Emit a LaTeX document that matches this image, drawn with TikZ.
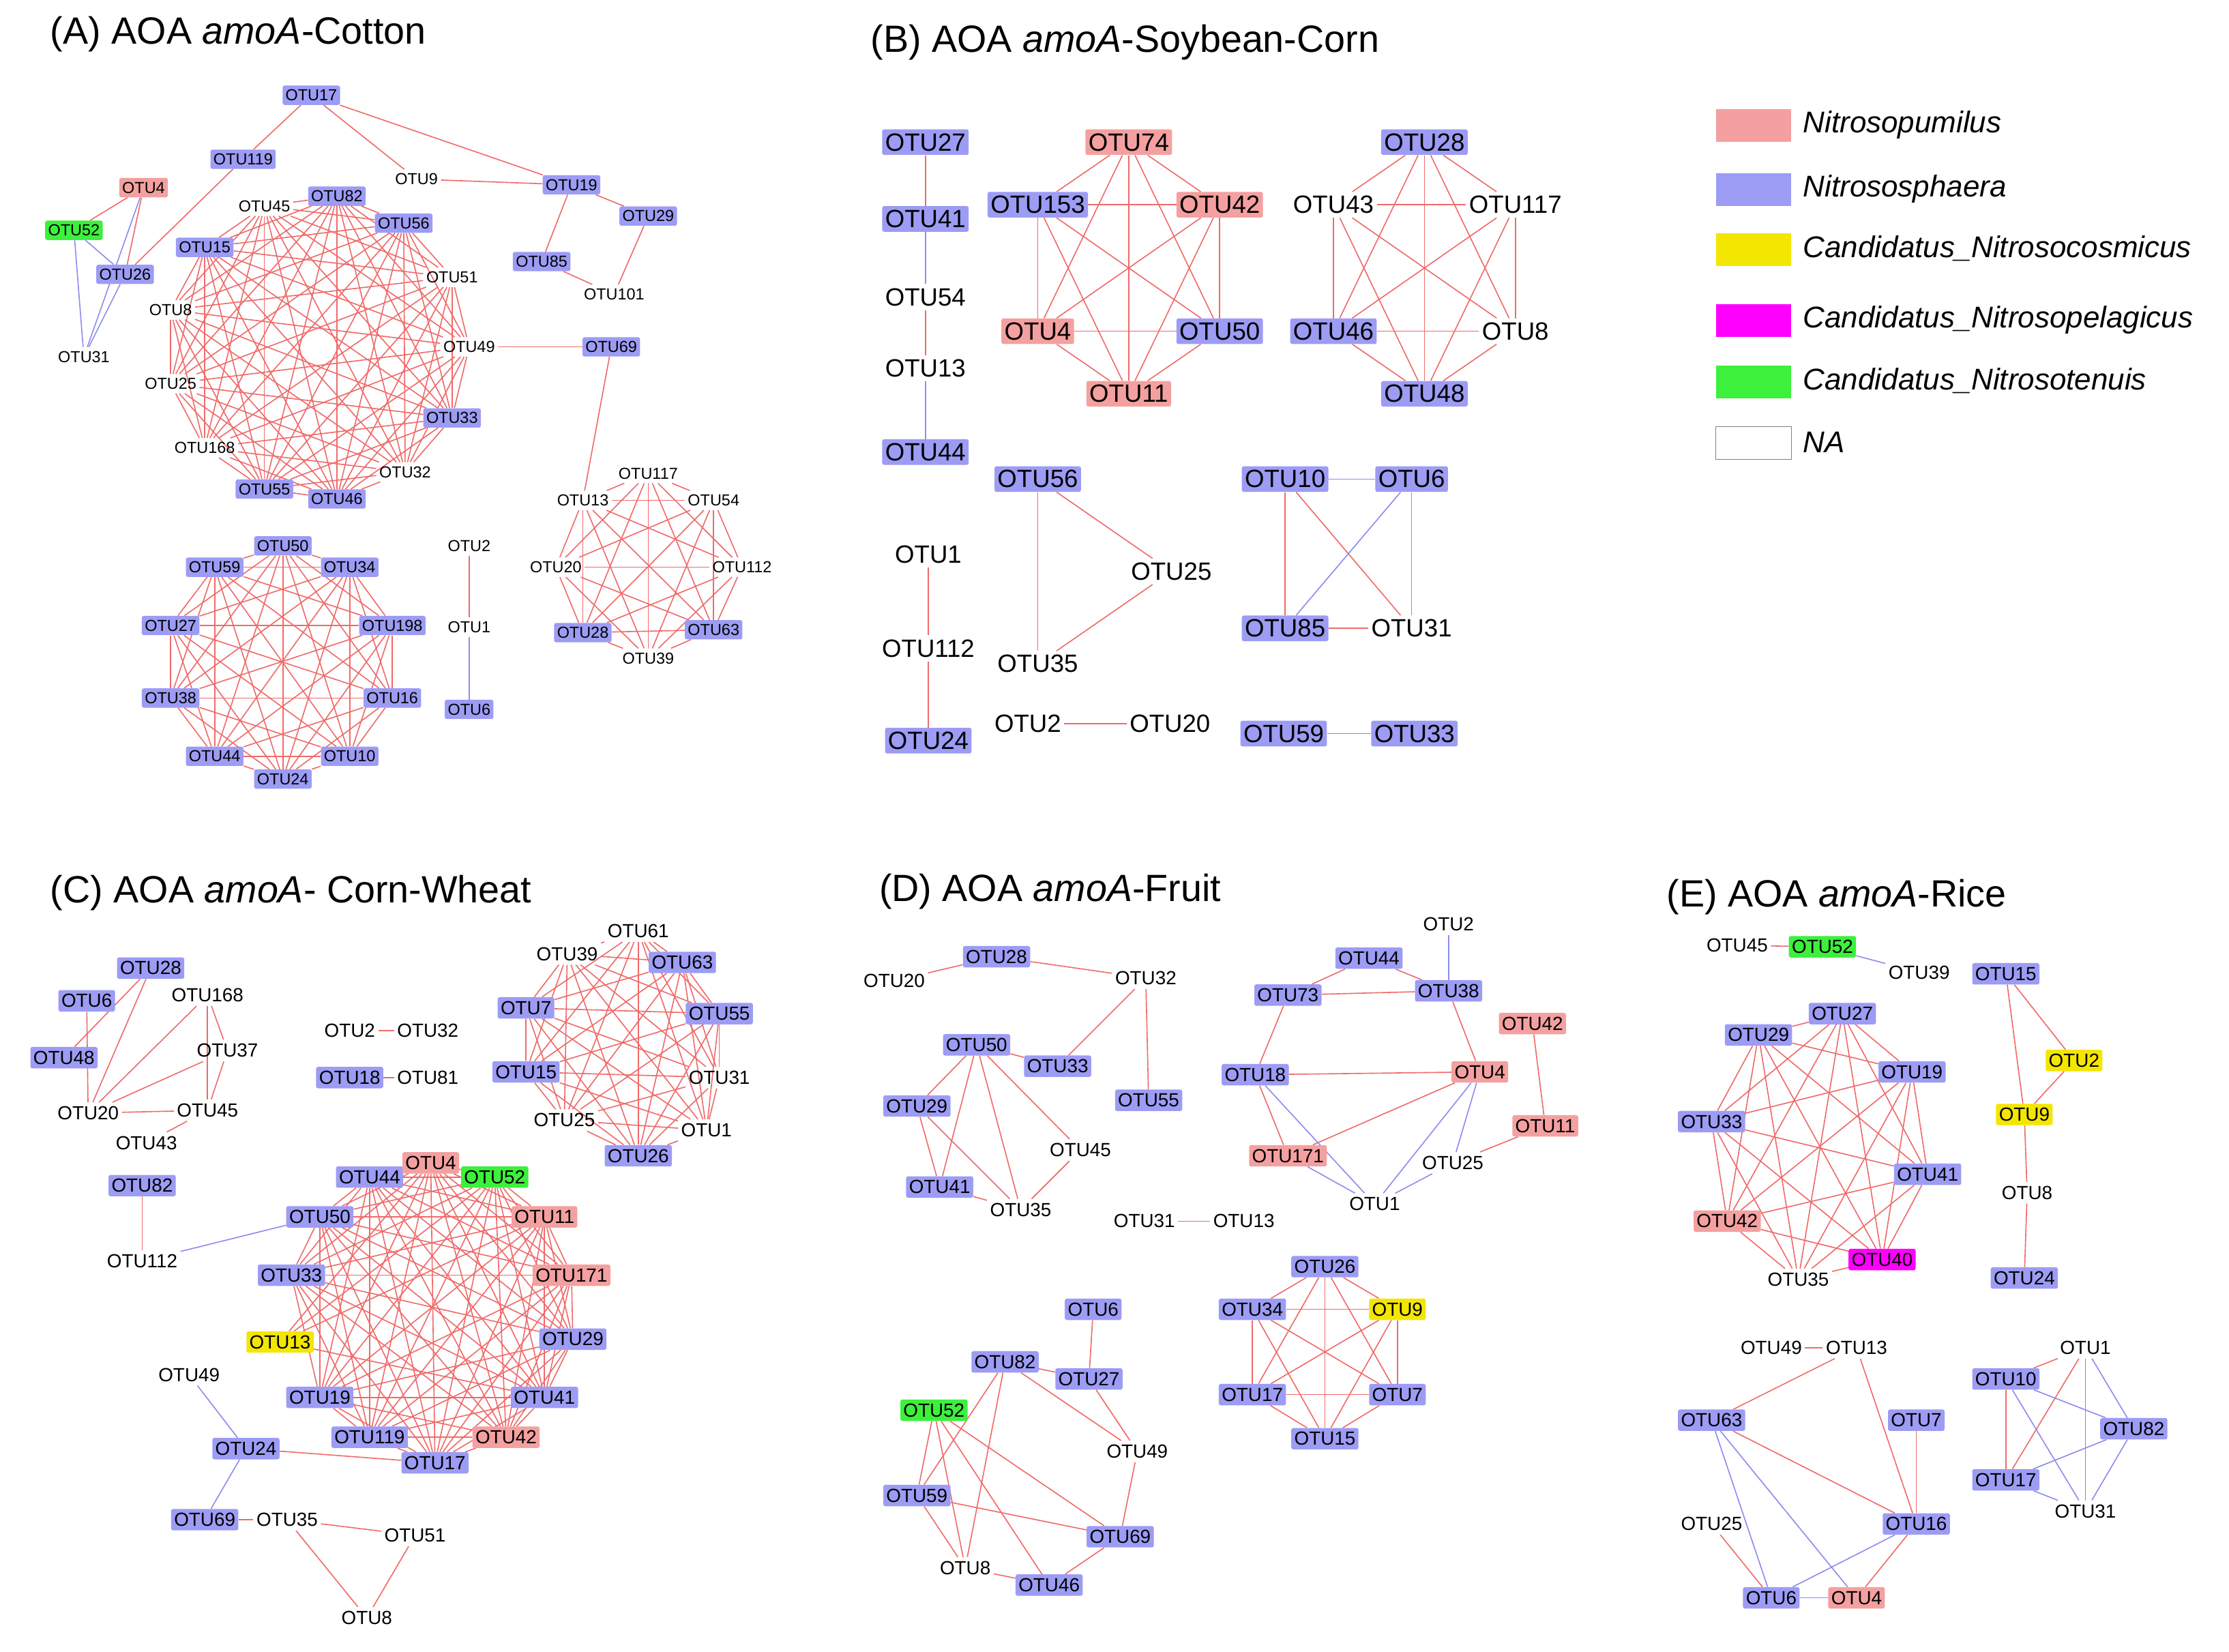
\documentclass[tikz,border=0pt]{standalone}
\usepackage{fontspec}
\setmainfont{Liberation Sans}
\usetikzlibrary{backgrounds}
\definecolor{pk}{HTML}{F4A0A0}
\definecolor{bl}{HTML}{9C9CF5}
\definecolor{yl}{HTML}{F3E600}
\definecolor{mg}{HTML}{FF00FF}
\definecolor{gr}{HTML}{3CF03C}
\definecolor{er}{HTML}{F06A6A}
\definecolor{eb}{HTML}{8C8CF0}
\tikzset{
 n/.style={inner xsep=3pt,inner ysep=4pt,rounded corners=2pt},
 P/.style={n,fill=pk},B/.style={n,fill=bl},Y/.style={n,fill=yl},
 M/.style={n,fill=mg},G/.style={n,fill=gr},X/.style={n},
 r/.style={draw=er,line width=1.1pt},b/.style={draw=eb,line width=1.1pt},
 fA/.style={every node/.append style={font=\fontsize{16}{16}\selectfont}},
 fB/.style={every node/.append style={font=\fontsize{25}{25}\selectfont}},
 fC/.style={every node/.append style={font=\fontsize{19}{19}\selectfont}},
 title/.style={font=\fontsize{38}{38}\selectfont,anchor=west},
 leg/.style={font=\fontsize{30}{30}\selectfont\itshape,anchor=west}
}
\newcommand\Nd[5]{\node[#4] (#1) at (#2,#3) {#5};}
\newcommand\clique[2][r]{\foreach \a [count=\i] in {#2}{\foreach \b [count=\j] in {#2}{\ifnum\j>\i\relax \draw[#1] (\a)--(\b);\fi}}}
\newcommand\E[3][r]{\draw[#1] (#2)--(#3);}
\begin{document}
\begin{tikzpicture}[x=0.05cm,y=-0.05cm]
\useasboundingbox (0,0) rectangle (1568,1162);
% titles
\node[title] (tA) at (33,24) {(A) AOA \textit{amoA}-Cotton};
\node[title] (tB) at (610,30) {(B) AOA \textit{amoA}-Soybean-Corn};
\node[title] (tC) at (33,628) {(C) AOA \textit{amoA}- Corn-Wheat};
\node[title] (tD) at (616,627) {(D) AOA \textit{amoA}-Fruit};
\node[title] (tE) at (1170,631) {(E) AOA \textit{amoA}-Rice};
% legend
\foreach \c/\y/\t [count=\k] in {pk/88/Nitrosopumilus,bl/133/Nitrososphaera,yl/175/Candidatus\_Nitrosocosmicus,mg/225/Candidatus\_Nitrosopelagicus,gr/268/Candidatus\_Nitrosotenuis}{
 \fill[\c] (1207,\y-11) rectangle (1260,\y+12);
 \node[leg] (lg\k) at (1266,\y) {\t};}
\draw[gray] (1207,300) rectangle (1260,323);
\node[leg] (lg6) at (1266,311) {NA};
% ================= A
\begin{scope}[fA]
\Nd{a17}{219}{67}{B}{OTU17}\Nd{a119}{171}{112}{B}{OTU119}\Nd{a9}{293}{126}{X}{OTU9}
\Nd{a19}{402}{130}{B}{OTU19}\Nd{a29}{456}{152}{B}{OTU29}\Nd{a85}{381}{184}{B}{OTU85}
\Nd{a101}{432}{207}{X}{OTU101}\Nd{a4}{101}{132}{P}{OTU4}\Nd{a52}{52}{162}{G}{OTU52}
\Nd{a26}{88}{193}{B}{OTU26}\Nd{a31}{59}{251}{X}{OTU31}\Nd{a45}{186}{145}{X}{OTU45}
\Nd{a82}{237}{138}{B}{OTU82}\Nd{a56}{284}{157}{B}{OTU56}\Nd{a15}{144}{174}{B}{OTU15}
\Nd{a51}{318}{195}{X}{OTU51}\Nd{a8}{120}{218}{X}{OTU8}\Nd{a49}{330}{244}{X}{OTU49}
\Nd{a69}{430}{244}{B}{OTU69}\Nd{a25}{120}{270}{X}{OTU25}\Nd{a33}{318}{294}{B}{OTU33}
\Nd{a168}{144}{315}{X}{OTU168}\Nd{a32}{285}{332}{X}{OTU32}\Nd{a55}{186}{344}{B}{OTU55}
\Nd{a46}{237}{351}{B}{OTU46}
\Nd{a50}{199}{384}{B}{OTU50}\Nd{a34}{246}{399}{B}{OTU34}\Nd{a198}{276}{440}{B}{OTU198}
\Nd{a16}{276}{491}{B}{OTU16}\Nd{a10}{246}{532}{B}{OTU10}\Nd{a24}{199}{548}{B}{OTU24}
\Nd{a44}{151}{532}{B}{OTU44}\Nd{a38}{120}{491}{B}{OTU38}\Nd{a27}{120}{440}{B}{OTU27}
\Nd{a59}{151}{399}{B}{OTU59}
\Nd{a2}{330}{384}{X}{OTU2}\Nd{a1}{330}{441}{X}{OTU1}\Nd{a6}{330}{499}{B}{OTU6}
\Nd{a117}{456}{333}{X}{OTU117}\Nd{a13}{410}{352}{X}{OTU13}\Nd{a54}{502}{352}{X}{OTU54}
\Nd{a20}{391}{399}{X}{OTU20}\Nd{a112}{522}{399}{X}{OTU112}\Nd{a28}{410}{445}{B}{OTU28}
\Nd{a63}{502}{443}{B}{OTU63}\Nd{a39}{456}{463}{X}{OTU39}
\end{scope}
% ================= B
\begin{scope}[fB]
\Nd{b27}{651}{100}{B}{OTU27}\Nd{b41}{651}{154}{B}{OTU41}\Nd{b54}{651}{209}{X}{OTU54}
\Nd{b13}{651}{259}{X}{OTU13}\Nd{b44}{651}{318}{B}{OTU44}
\Nd{b74}{794}{100}{P}{OTU74}\Nd{b153}{730}{144}{B}{OTU153}\Nd{b42}{858}{144}{P}{OTU42}
\Nd{b4}{730}{233}{P}{OTU4}\Nd{b50}{858}{233}{B}{OTU50}\Nd{b11}{794}{277}{P}{OTU11}
\Nd{b28}{1002}{100}{B}{OTU28}\Nd{b43}{938}{144}{X}{OTU43}\Nd{b117}{1066}{144}{X}{OTU117}
\Nd{b46}{938}{233}{B}{OTU46}\Nd{b8}{1066}{233}{X}{OTU8}\Nd{b48}{1002}{277}{B}{OTU48}
\Nd{b56}{730}{337}{B}{OTU56}\Nd{b25}{824}{402}{X}{OTU25}\Nd{b35}{730}{467}{X}{OTU35}
\Nd{b1}{653}{390}{X}{OTU1}\Nd{b112}{653}{456}{X}{OTU112}\Nd{b24}{653}{521}{B}{OTU24}
\Nd{b2}{723}{509}{X}{OTU2}\Nd{b20}{823}{509}{X}{OTU20}
\Nd{b10}{904}{337}{B}{OTU10}\Nd{b6}{993}{337}{B}{OTU6}\Nd{b85}{904}{442}{B}{OTU85}
\Nd{b31}{993}{442}{X}{OTU31}\Nd{b59}{903}{516}{B}{OTU59}\Nd{b33}{995}{516}{B}{OTU33}
\end{scope}
% ================= C
\begin{scope}[fC]
\Nd{c28}{106}{681}{B}{OTU28}\Nd{c6}{61}{704}{B}{OTU6}\Nd{c168}{146}{700}{X}{OTU168}
\Nd{c48}{45}{744}{B}{OTU48}\Nd{c37}{160}{739}{X}{OTU37}\Nd{c20}{62}{783}{X}{OTU20}
\Nd{c45}{146}{781}{X}{OTU45}\Nd{c43}{103}{804}{X}{OTU43}\Nd{c82}{100}{834}{B}{OTU82}
\Nd{c112}{100}{887}{X}{OTU112}
\Nd{c2}{246}{725}{X}{OTU2}\Nd{c32}{301}{725}{X}{OTU32}\Nd{c18}{246}{758}{B}{OTU18}\Nd{c81}{301}{758}{X}{OTU81}
\Nd{c61}{449}{655}{X}{OTU61}\Nd{c39}{399}{671}{X}{OTU39}\Nd{c63}{480}{677}{B}{OTU63}
\Nd{c7}{370}{709}{B}{OTU7}\Nd{c55}{506}{713}{B}{OTU55}\Nd{c15}{370}{754}{B}{OTU15}
\Nd{c31}{506}{758}{X}{OTU31}\Nd{c25}{397}{788}{X}{OTU25}\Nd{c1}{497}{795}{X}{OTU1}
\Nd{c26}{449}{813}{B}{OTU26}
\Nd{c44}{260}{828}{B}{OTU44}\Nd{c4}{303}{818}{P}{OTU4}\Nd{c52}{348}{828}{G}{OTU52}
\Nd{c50}{225}{856}{B}{OTU50}\Nd{c11}{383}{856}{P}{OTU11}\Nd{c33}{205}{897}{B}{OTU33}
\Nd{c171}{402}{897}{P}{OTU171}\Nd{c13}{197}{944}{Y}{OTU13}\Nd{c29}{403}{942}{B}{OTU29}
\Nd{c19}{225}{983}{B}{OTU19}\Nd{c41}{383}{983}{B}{OTU41}\Nd{c119}{260}{1011}{B}{OTU119}
\Nd{c42}{356}{1011}{P}{OTU42}\Nd{c17}{306}{1029}{B}{OTU17}
\Nd{c49}{133}{967}{X}{OTU49}\Nd{c24}{173}{1019}{B}{OTU24}\Nd{c69}{144}{1069}{B}{OTU69}
\Nd{c35}{202}{1069}{X}{OTU35}\Nd{c51}{292}{1080}{X}{OTU51}\Nd{c8}{258}{1138}{X}{OTU8}
% ================= D
\Nd{d28}{701}{673}{B}{OTU28}\Nd{d20}{629}{690}{X}{OTU20}\Nd{d32}{806}{688}{X}{OTU32}
\Nd{d50}{687}{735}{B}{OTU50}\Nd{d33}{744}{750}{B}{OTU33}\Nd{d55}{808}{774}{B}{OTU55}
\Nd{d29}{645}{778}{B}{OTU29}\Nd{d45}{760}{809}{X}{OTU45}\Nd{d41}{661}{835}{B}{OTU41}
\Nd{d35}{718}{851}{X}{OTU35}\Nd{d31}{805}{859}{X}{OTU31}\Nd{d13}{875}{859}{X}{OTU13}
\Nd{d2}{1019}{650}{X}{OTU2}\Nd{d44}{963}{674}{B}{OTU44}\Nd{d73}{906}{700}{B}{OTU73}
\Nd{d38}{1019}{697}{B}{OTU38}\Nd{d42}{1078}{720}{P}{OTU42}\Nd{d18}{883}{756}{B}{OTU18}
\Nd{d4}{1041}{754}{P}{OTU4}\Nd{d11}{1087}{792}{P}{OTU11}\Nd{d171}{906}{813}{P}{OTU171}
\Nd{d25}{1022}{818}{X}{OTU25}\Nd{d1}{967}{847}{X}{OTU1}
\Nd{d6}{769}{921}{B}{OTU6}\Nd{d82}{707}{958}{B}{OTU82}\Nd{d27}{766}{970}{B}{OTU27}
\Nd{d52}{657}{992}{G}{OTU52}\Nd{d49}{800}{1021}{X}{OTU49}\Nd{d59}{645}{1052}{B}{OTU59}
\Nd{d69}{788}{1081}{B}{OTU69}\Nd{d8}{679}{1103}{X}{OTU8}\Nd{d46}{738}{1115}{B}{OTU46}
\Nd{d26}{932}{891}{B}{OTU26}\Nd{d34}{881}{921}{B}{OTU34}\Nd{d9}{983}{921}{Y}{OTU9}
\Nd{d17}{881}{981}{B}{OTU17}\Nd{d7}{983}{981}{B}{OTU7}\Nd{d15}{932}{1012}{B}{OTU15}
% ================= E
\Nd{e45}{1222}{665}{X}{OTU45}\Nd{e52}{1282}{666}{G}{OTU52}\Nd{e39}{1350}{684}{X}{OTU39}
\Nd{e27}{1296}{713}{B}{OTU27}\Nd{e29}{1237}{728}{B}{OTU29}\Nd{e19}{1345}{754}{B}{OTU19}
\Nd{e33}{1204}{789}{B}{OTU33}\Nd{e41}{1356}{826}{B}{OTU41}\Nd{e42}{1215}{859}{P}{OTU42}
\Nd{e40}{1324}{886}{M}{OTU40}\Nd{e35}{1265}{900}{X}{OTU35}
\Nd{e15}{1411}{685}{B}{OTU15}\Nd{e2}{1459}{746}{Y}{OTU2}\Nd{e9}{1424}{784}{Y}{OTU9}
\Nd{e8}{1426}{839}{X}{OTU8}\Nd{e24}{1424}{899}{B}{OTU24}
\Nd{e49}{1246}{948}{X}{OTU49}\Nd{e13}{1306}{948}{X}{OTU13}\Nd{e63}{1204}{999}{B}{OTU63}
\Nd{e7}{1348}{999}{B}{OTU7}\Nd{e25}{1204}{1072}{X}{OTU25}\Nd{e16}{1348}{1072}{B}{OTU16}
\Nd{e6}{1246}{1124}{B}{OTU6}\Nd{e4}{1306}{1124}{P}{OTU4}
\Nd{e1}{1467}{948}{X}{OTU1}\Nd{e10}{1411}{970}{B}{OTU10}\Nd{e82}{1501}{1005}{B}{OTU82}
\Nd{e17}{1411}{1041}{B}{OTU17}\Nd{e31}{1467}{1063}{X}{OTU31}
\end{scope}
\begin{pgfonlayer}{background}
\fill[white] (0,0) rectangle (1568,1162);
% A
\E{a17}{a119}\E{a17}{a9}\E{a17}{a19}\E{a9}{a19}\E{a19}{a85}\E{a19}{a29}\E{a29}{a101}\E{a85}{a101}
\E{a119}{a26}\E{a4}{a52}\E{a4}{a26}\E[b]{a52}{a26}\E[b]{a52}{a31}\E[b]{a26}{a31}\E[b]{a4}{a31}
\E{a49}{a69}\E{a69}{a13}\E{a2}{a1}\E[b]{a1}{a6}
\clique{a45,a82,a56,a51,a49,a33,a32,a46,a55,a168,a25,a8,a15}
\clique{a50,a34,a198,a16,a10,a24,a44,a38,a27,a59}
\clique{a117,a13,a54,a112,a63,a39,a28,a20}
% B
\E{b27}{b41}\E[b]{b41}{b54}\E{b54}{b13}\E[b]{b13}{b44}
\clique{b74,b153,b42,b4,b50,b11}\clique{b28,b43,b117,b46,b8,b48}
\E{b56}{b25}\E{b56}{b35}\E{b35}{b25}\E{b1}{b112}\E{b112}{b24}\E{b2}{b20}
\E[b]{b10}{b6}\E{b10}{b85}\E{b10}{b31}\E[b]{b6}{b85}\E[b]{b6}{b31}\E{b85}{b31}\E{b59}{b33}
% C
\E{c28}{c48}\E{c28}{c20}\E{c6}{c20}\E{c168}{c20}\E{c168}{c37}\E{c37}{c20}\E{c168}{c45}
\E{c37}{c45}\E{c20}{c45}\E{c45}{c43}\E{c82}{c112}\E{c2}{c32}\E{c18}{c81}
\clique{c61,c39,c63,c7,c55,c15,c31,c25,c1,c26}
\clique{c44,c4,c52,c50,c11,c33,c171,c29,c19,c41,c119,c42,c17}
\E{c13}{c4}\E{c13}{c11}\E{c13}{c41}\E{c13}{c52}
\E[b]{c50}{c112}\E[b]{c49}{c24}\E{c24}{c17}\E[b]{c24}{c69}\E{c69}{c35}\E{c35}{c51}\E{c35}{c8}\E{c51}{c8}
% D
\E{d20}{d28}\E{d28}{d32}\E{d32}{d33}\E{d32}{d55}\E{d50}{d33}\E{d50}{d29}\E{d50}{d41}\E{d50}{d35}
\E{d50}{d45}\E{d29}{d41}\E{d29}{d35}\E{d45}{d35}\E{d41}{d35}\E{d31}{d13}
\E[b]{d2}{d38}\E{d44}{d73}\E{d44}{d38}\E{d73}{d38}\E{d38}{d4}\E{d73}{d18}\E{d18}{d4}\E{d18}{d171}
\E{d4}{d171}\E[b]{d4}{d1}\E[b]{d4}{d25}\E{d42}{d11}\E{d25}{d11}\E[b]{d171}{d1}\E[b]{d18}{d1}\E[b]{d1}{d25}
\E{d6}{d27}\E{d82}{d27}\E{d82}{d49}\E{d82}{d8}\E{d52}{d59}\E{d52}{d8}\E{d52}{d69}\E{d52}{d46}
\E{d59}{d69}\E{d59}{d8}\E{d27}{d49}\E{d49}{d69}\E{d69}{d46}\E{d8}{d46}\E{d82}{d59}
\clique{d26,d34,d9,d17,d7,d15}
% E
\E{e45}{e52}\E[b]{e52}{e39}
\clique{e27,e29,e19,e33,e41,e42,e40,e35}
\E{e15}{e2}\E{e15}{e9}\E{e2}{e9}\E{e9}{e8}\E{e8}{e24}
\E{e49}{e13}\E{e13}{e63}\E{e13}{e16}\E{e7}{e16}\E{e63}{e16}\E[b]{e63}{e6}\E[b]{e63}{e4}
\E{e25}{e6}\E[b]{e6}{e4}\E{e16}{e4}\E[b]{e16}{e6}
\E{e1}{e10}\E{e1}{e17}\E{e1}{e31}\E[b]{e1}{e82}\E{e10}{e17}\E[b]{e10}{e31}\E[b]{e10}{e82}
\E[b]{e17}{e82}\E[b]{e17}{e31}\E[b]{e82}{e31}
\end{pgfonlayer}
\end{tikzpicture}
\end{document}
